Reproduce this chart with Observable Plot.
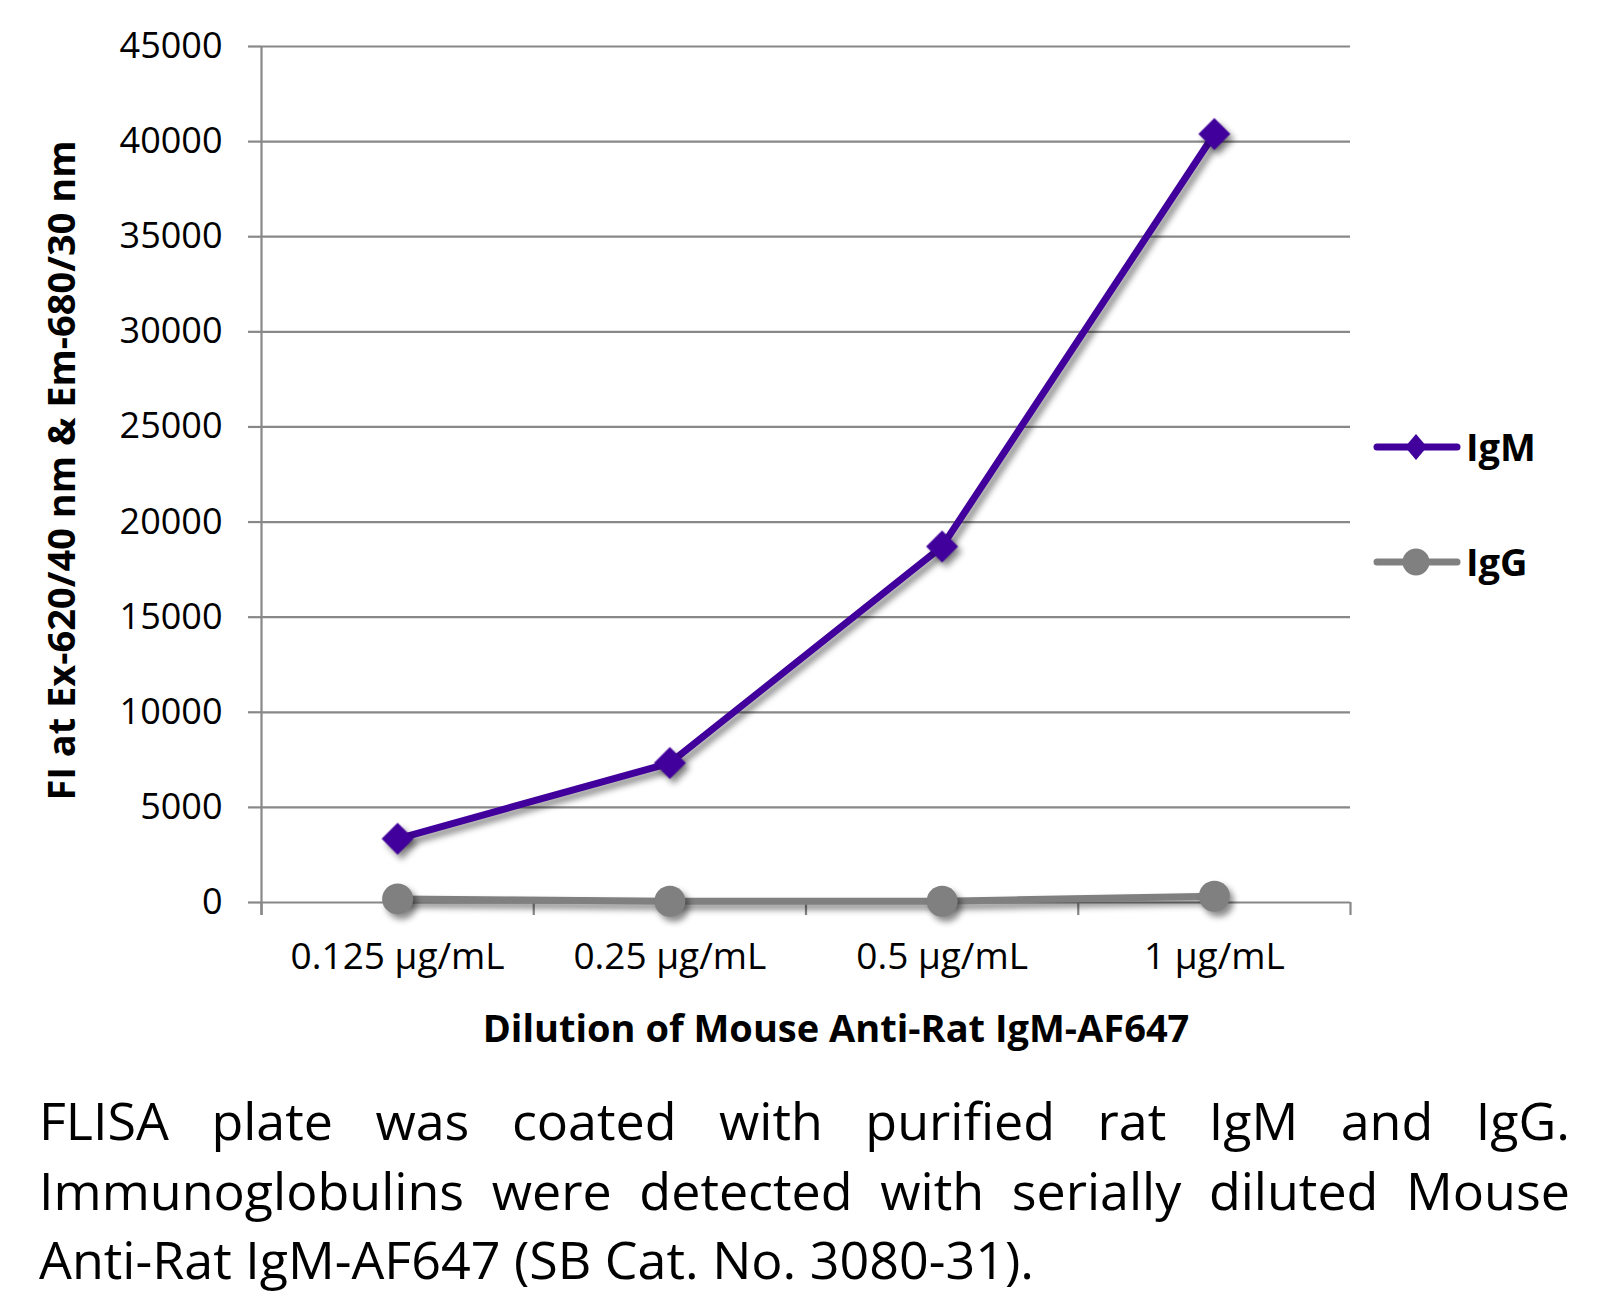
<!DOCTYPE html>
<html>
<head>
<meta charset="utf-8">
<script src="https://cdn.jsdelivr.net/npm/d3@7"></script>
<script src="https://cdn.jsdelivr.net/npm/@observablehq/plot@0.6"></script>
<style>
  html, body { margin: 0; padding: 0; background: #fff; }
  body { width: 1618px; font-family: "Open Sans", sans-serif; }
  #chart svg { display: block; }
  #caption { margin: 15px 0 0 39px; width: 1531px; font-size: 52px; line-height: 69.5px; color: #000; }
  #caption .j { text-align: justify; text-align-last: justify; }
</style>
</head>
<body>
<div id="chart"></div>
<div id="caption"></div>
<script>
const categories = ["0.125 µg/mL", "0.25 µg/mL", "0.5 µg/mL", "1 µg/mL"];
const igm = [3350, 7330, 18720, 40400];
const igg = [190, 70, 70, 330];
const seriesNames = ["IgM", "IgG"];
const seriesColors = ["#41009b", "#808080"];
const yTicks = [0, 5000, 10000, 15000, 20000, 25000, 30000, 35000, 40000, 45000];
const yLabel = "FI at Ex-620/40 nm & Em-680/30 nm";
const xLabel = "Dilution of Mouse Anti-Rat IgM-AF647";
const captionLines = [
  "FLISA plate was coated with purified rat IgM and IgG.",
  "Immunoglobulins were detected with serially diluted Mouse",
  "Anti-Rat IgM-AF647 (SB Cat. No. 3080-31)."
];

const rows = [];
categories.forEach((c, i) => {
  rows.push({series: "IgM", pos: i + 0.5, value: igm[i]});
  rows.push({series: "IgG", pos: i + 0.5, value: igg[i]});
});
const catPos = categories.map((c, i) => i + 0.5);
const bounds = d3.range(categories.length + 1);

const grid = "#888888";
const plot = Plot.plot({
  width: 1618,
  height: 1070,
  marginLeft: 261,
  marginRight: 268,
  marginTop: 46,
  marginBottom: 168,
  style: {fontFamily: "Open Sans, sans-serif", fontSize: "36px", color: "#000", background: "#fff"},
  x: {domain: [0, categories.length]},
  y: {domain: [0, 45000]},
  color: {domain: seriesNames, range: seriesColors},
  marks: [
    Plot.gridY(yTicks, {stroke: grid, strokeOpacity: 1, strokeWidth: 2.2}),
    Plot.axisY(yTicks, {tickSize: 13, tickPadding: 26, stroke: grid, strokeWidth: 2.2, label: null, tickFormat: d => String(d), fill: "#000"}),
    Plot.axisX(bounds, {tickSize: 13, stroke: grid, strokeWidth: 2.2, tickFormat: () => "", label: null}),
    Plot.axisX(catPos, {tickSize: 0, tickPadding: 40, fontSize: 37, tickFormat: d => categories[Math.round(d - 0.5)], label: null, fill: "#000"}),
    Plot.ruleX([0], {stroke: grid, strokeWidth: 2.2, insetBottom: -13}),
    Plot.lineY(rows, {x: "pos", y: "value", z: "series", stroke: "series", strokeWidth: 7, className: "shadowed"}),
    Plot.dot(rows.filter(d => d.series === "IgM"), {x: "pos", y: "value", symbol: "diamond2", r: 14.4, fill: "series", stroke: null, className: "shadowed"}),
    Plot.dot(rows.filter(d => d.series === "IgG"), {x: "pos", y: "value", symbol: "circle", r: 15.5, fill: "series", stroke: null, className: "shadowed"}),
    Plot.text([yLabel], {frameAnchor: "left", textAnchor: "middle", dx: -199, dy: -4, rotate: -90, text: d => d, fontWeight: "bold", fontSize: 38, fill: "#000"}),
    Plot.text([xLabel], {frameAnchor: "bottom", dx: 30, dy: 139, text: d => d, fontWeight: "bold", fontSize: 38, fill: "#000"})
  ]
});
document.getElementById("chart").appendChild(plot);

// drop shadows like the original
d3.select(plot).selectAll(".shadowed").style("filter", "drop-shadow(4px 5px 3px rgba(0,0,0,0.45))");

// legend
const svg = d3.select(plot);
const lg = svg.append("g").attr("class", "legend").attr("text-anchor", "start");
const legendY = [447, 562];
seriesNames.forEach((name, i) => {
  const g = lg.append("g").attr("transform", `translate(0,${legendY[i]})`);
  g.append("line").attr("x1", 1377).attr("x2", 1457).attr("y1", 0).attr("y2", 0)
    .attr("stroke", seriesColors[i]).attr("stroke-width", 7).attr("stroke-linecap", "round");
  if (i === 0) {
    g.append("path").attr("d", "M1416,-13L1427,0L1416,13L1405,0Z").attr("fill", seriesColors[i]);
  } else {
    g.append("circle").attr("cx", 1416).attr("cy", 0).attr("r", 13.5).attr("fill", seriesColors[i]);
  }
  g.append("text").attr("x", 1466).attr("y", 14).attr("text-anchor", "start").attr("font-weight", "bold").attr("font-size", 38)
    .attr("font-family", "Open Sans, sans-serif").attr("fill", "#000").text(name);
});

const cap = document.getElementById("caption");
captionLines.forEach((t, i) => {
  const d = document.createElement("div");
  if (i < captionLines.length - 1) d.className = "j";
  d.style.whiteSpace = "nowrap";
  d.textContent = t;
  cap.appendChild(d);
});
</script>
</body>
</html>
